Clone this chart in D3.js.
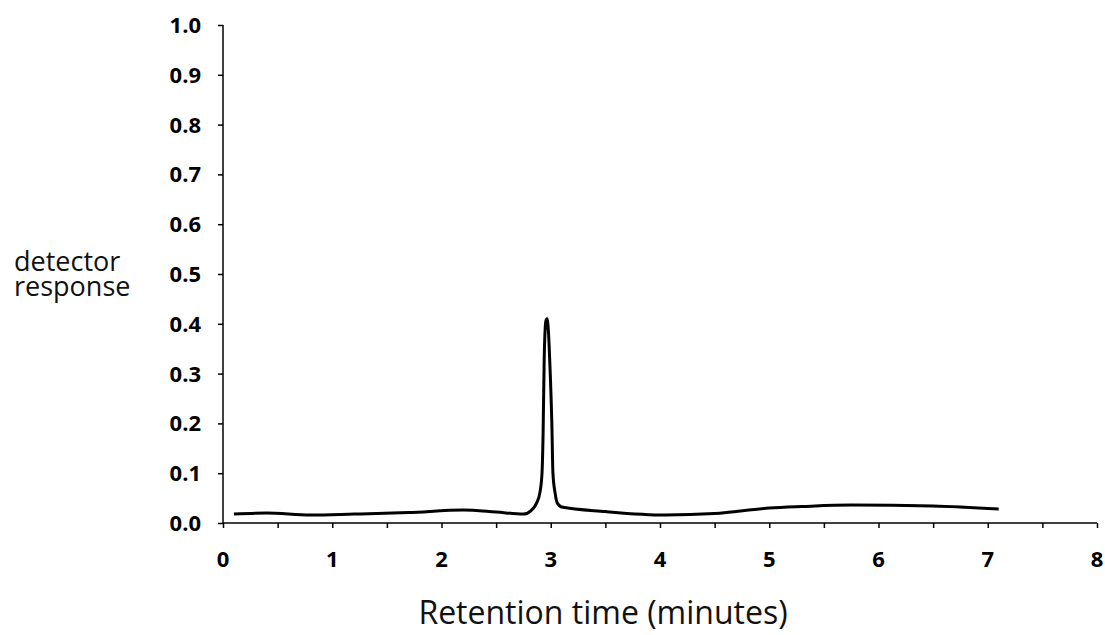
<!DOCTYPE html>
<html>
<head>
<meta charset="utf-8">
<script src="https://cdn.jsdelivr.net/npm/d3@7"></script>
<style>
    body { margin: 0; background: #fff; }
    svg { display: block; }
    .axis path, .axis line { stroke: #000; stroke-width: 1.5; }
    .tickLabel { font-family: "Open Sans", sans-serif; font-weight: bold; font-size: 22px; fill: #000; }
    .axisTitle { font-family: "Open Sans", sans-serif; font-size: 27px; fill: #111; }
</style>
</head>
<body>
<div id="chart"></div>
<script>
const WIDTH = 1105;
const HEIGHT = 635;

// retention time (minutes) and detector response
const times = [0.10, 0.40, 0.80, 1.20, 1.70, 2.20, 2.50, 2.75, 2.82, 2.87, 2.90, 2.92, 2.93, 2.94, 2.955, 2.965,
    2.98, 2.99, 3.01, 3.02, 3.04, 3.06, 3.10, 3.50, 4.05, 4.50, 5.00, 5.30, 5.75, 6.50, 7.10];
const responses = [0.018, 0.020, 0.016, 0.018, 0.021, 0.026, 0.022, 0.018, 0.025, 0.040, 0.060, 0.100, 0.180, 0.330, 0.405, 0.410,
    0.380, 0.330, 0.200, 0.100, 0.060, 0.040, 0.032, 0.023, 0.016, 0.019, 0.030, 0.033, 0.036, 0.034, 0.028];

const xTicks = [0, 0.5, 1, 1.5, 2, 2.5, 3, 3.5, 4, 4.5, 5, 5.5, 6, 6.5, 7, 7.5, 8];
const xLabels = [0, 1, 2, 3, 4, 5, 6, 7, 8];
const yTicks = [0, 0.1, 0.2, 0.3, 0.4, 0.5, 0.6, 0.7, 0.8, 0.9, 1.0];
const yTitleLines = ["detector", "response"];
const xTitle = "Retention time (minutes)";

const plot = { left: 223, right: 1097, top: 25, bottom: 523 };

let svg = d3.select("#chart")
    .append("svg")
    .attr("width", WIDTH)
    .attr("height", HEIGHT);

let x = d3.scaleLinear().domain([0, 8]).range([plot.left, plot.right]);
let y = d3.scaleLinear().domain([0, 1]).range([plot.bottom, plot.top]);

// x axis, ticks every half minute, labels on whole minutes
svg.append("g")
    .attr("class", "axis")
    .attr("transform", "translate(0," + plot.bottom + ")")
    .call(d3.axisBottom(x).tickValues(xTicks).tickSize(5).tickFormat(""))
    .call(g => g.select(".domain").attr("d", "M" + plot.left + ",0H" + plot.right));

svg.append("g")
    .selectAll("text")
    .data(xLabels)
    .enter()
    .append("text")
    .attr("class", "tickLabel")
    .attr("x", function (d) { return x(d); })
    .attr("y", plot.bottom + 44)
    .attr("text-anchor", "middle")
    .text(function (d) { return d; });

// y axis
svg.append("g")
    .attr("class", "axis")
    .attr("transform", "translate(" + plot.left + ",0)")
    .call(d3.axisLeft(y).tickValues(yTicks).tickSize(5).tickFormat(""))
    .call(g => g.select(".domain").attr("d", "M0," + plot.top + "V" + plot.bottom));

svg.append("g")
    .selectAll("text")
    .data(yTicks)
    .enter()
    .append("text")
    .attr("class", "tickLabel")
    .attr("x", plot.left - 22)
    .attr("y", function (d) { return y(d); })
    .attr("dy", "0.36em")
    .attr("text-anchor", "end")
    .text(function (d) { return d3.format(".1f")(d); });

// axis titles (y title is one text wrapped on two lines)
svg.append("text")
    .attr("class", "axisTitle")
    .attr("x", 14)
    .attr("y", 271)
    .selectAll("tspan")
    .data(yTitleLines)
    .enter()
    .append("tspan")
    .attr("x", 14)
    .attr("dy", function (d, i) { return i === 0 ? 0 : 25; })
    .text(function (d) { return d; });

svg.append("text")
    .attr("class", "axisTitle")
    .attr("x", 603)
    .attr("y", 624)
    .attr("text-anchor", "middle")
    .style("font-size", "32px")
    .text(xTitle);

// chromatogram trace
let points = times.map(function (t, i) { return [t, responses[i]]; });
let line = d3.line()
    .x(function (d) { return x(d[0]); })
    .y(function (d) { return y(d[1]); })
    .curve(d3.curveMonotoneX);

svg.append("path")
    .datum(points)
    .attr("d", line)
    .attr("fill", "none")
    .attr("stroke", "#000")
    .attr("stroke-width", 3)
    .attr("stroke-linejoin", "round");
</script>
</body>
</html>
